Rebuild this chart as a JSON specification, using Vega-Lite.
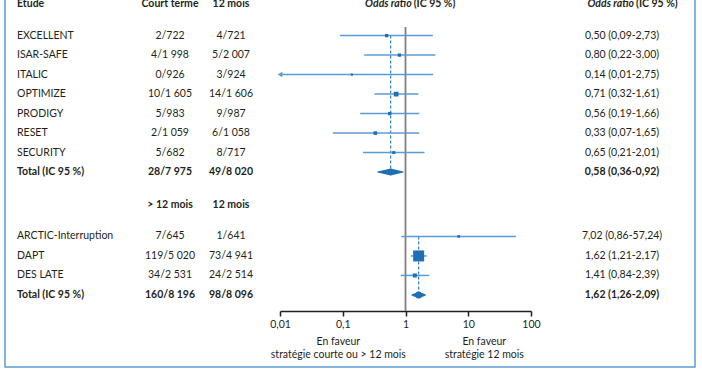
{
  "$schema": "https://vega.github.io/schema/vega-lite/v6.json",
  "width": 690,
  "height": 377,
  "autosize": "none",
  "padding": {"left": 5, "top": -10, "right": 7, "bottom": 3},
  "background": "white",
  "config": {
    "view": {"stroke": "#5b9bd5", "strokeWidth": 1.5},
    "font": "Lato",
    "text": {"font": "Lato", "fontSize": 10.5, "color": "#231f20", "baseline": "middle"}
  },
  "datasets": {
    "etudes": [
      {"groupe": "A", "kind": "entete", "ligne": -0.6, "etude": "Etude", "court": "Court terme", "douze": "12 mois", "titre_or": "Odds ratio", "titre_ic": "(IC 95 %)"},
      {"groupe": "A", "kind": "study", "ligne": 1, "etude": "EXCELLENT", "court": "2/722", "douze": "4/721", "or": 0.50, "lo": 0.09, "hi": 2.73, "poids": 11, "ic": "0,50 (0,09-2,73)"},
      {"groupe": "A", "kind": "study", "ligne": 2, "etude": "ISAR-SAFE", "court": "4/1 998", "douze": "5/2 007", "or": 0.80, "lo": 0.22, "hi": 3.00, "poids": 11, "ic": "0,80 (0,22-3,00)"},
      {"groupe": "A", "kind": "study", "ligne": 3, "etude": "ITALIC", "court": "0/926", "douze": "3/924", "or": 0.14, "lo": 0.01, "hi": 2.75, "poids": 5, "ic": "0,14 (0,01-2,75)"},
      {"groupe": "A", "kind": "study", "ligne": 4, "etude": "OPTIMIZE", "court": "10/1 605", "douze": "14/1 606", "or": 0.71, "lo": 0.32, "hi": 1.61, "poids": 22, "ic": "0,71 (0,32-1,61)"},
      {"groupe": "A", "kind": "study", "ligne": 5, "etude": "PRODIGY", "court": "5/983", "douze": "9/987", "or": 0.56, "lo": 0.19, "hi": 1.66, "poids": 11, "ic": "0,56 (0,19-1,66)"},
      {"groupe": "A", "kind": "study", "ligne": 6, "etude": "RESET", "court": "2/1 059", "douze": "6/1 058", "or": 0.33, "lo": 0.07, "hi": 1.65, "poids": 13, "ic": "0,33 (0,07-1,65)"},
      {"groupe": "A", "kind": "study", "ligne": 7, "etude": "SECURITY", "court": "5/682", "douze": "8/717", "or": 0.65, "lo": 0.21, "hi": 2.01, "poids": 9, "ic": "0,65 (0,21-2,01)"},
      {"groupe": "A", "kind": "total", "ligne": 8, "etude": "Total (IC 95 %)", "court": "28/7 975", "douze": "49/8 020", "or": 0.58, "lo": 0.36, "hi": 0.92, "ic": "0,58 (0,36-0,92)"},
      {"groupe": "B", "kind": "entete", "ligne": 9.7, "etude": "", "court": "> 12 mois", "douze": "12 mois"},
      {"groupe": "B", "kind": "study", "ligne": 11.3, "etude": "ARCTIC-Interruption", "court": "7/645", "douze": "1/641", "or": 7.02, "lo": 0.86, "hi": 57.24, "poids": 7, "ic": "7,02 (0,86-57,24)"},
      {"groupe": "B", "kind": "study", "ligne": 12.3, "etude": "DAPT", "court": "119/5 020", "douze": "73/4 941", "or": 1.62, "lo": 1.21, "hi": 2.17, "poids": 121, "ic": "1,62 (1,21-2,17)"},
      {"groupe": "B", "kind": "study", "ligne": 13.3, "etude": "DES LATE", "court": "34/2 531", "douze": "24/2 514", "or": 1.41, "lo": 0.84, "hi": 2.39, "poids": 16, "ic": "1,41 (0,84-2,39)"},
      {"groupe": "B", "kind": "total", "ligne": 14.3, "etude": "Total (IC 95 %)", "court": "160/8 196", "douze": "98/8 096", "or": 1.62, "lo": 1.26, "hi": 2.09, "ic": "1,62 (1,26-2,09)"}
    ]
  },
  "data": {"name": "etudes"},
  "layer": [
    {
      "layer": [
        {
          "data": {"values": [{"reference": 1}]},
          "mark": {"type": "rule", "color": "#7f7f7f", "strokeWidth": 1.8},
          "encoding": {
            "x": {"field": "reference", "type": "quantitative",
              "scale": {"type": "log", "domain": [0.01, 100], "range": [275, 526], "nice": false},
              "axis": {"values": [0.01, 0.1, 1, 10, 100], "format": "~g", "labelExpr": "replace(datum.label, '.', ',')", "title": null, "offset": -56, "grid": false, "domainColor": "#231f20", "domainWidth": 1.5, "tickColor": "#231f20", "tickWidth": 1.5, "tickSize": 5, "labelFont": "Lato", "labelFontSize": 10.5, "labelColor": "#231f20", "labelPadding": 3, "labelFlush": false, "labelOverlap": false}},
            "y": {"datum": 0.56, "type": "quantitative",
              "scale": {"domain": [-1.3385, 17.995], "reverse": true, "nice": false, "zero": false},
              "axis": null},
            "y2": {"datum": 15.12}
          }
        },
        {
          "transform": [
            {"filter": "datum.kind !== 'entete'"},
            {"joinaggregate": [{"op": "min", "field": "ligne", "as": "debut"}], "groupby": ["groupe"]},
            {"filter": "datum.kind === 'total'"}
          ],
          "mark": {"type": "rule", "color": "#2e7fc1", "strokeWidth": 1.2, "strokeDash": [3, 2]},
          "encoding": {
            "x": {"field": "or", "type": "quantitative"},
            "y": {"field": "debut", "type": "quantitative", "axis": null},
            "y2": {"field": "ligne"}
          }
        },
        {
          "transform": [{"filter": "datum.kind === 'study'"}],
          "mark": {"type": "rule", "color": "#5b9bd5", "strokeWidth": 1.5},
          "encoding": {
            "x": {"field": "lo", "type": "quantitative"},
            "x2": {"field": "hi"},
            "y": {"field": "ligne", "type": "quantitative", "axis": null}
          }
        },
        {
          "transform": [{"filter": "datum.kind === 'study' && datum.lo <= 0.01"}],
          "mark": {"type": "point", "shape": "triangle-left", "filled": true, "size": 30, "color": "#5b9bd5", "opacity": 1, "dx": 3},
          "encoding": {
            "x": {"field": "lo", "type": "quantitative"},
            "y": {"field": "ligne", "type": "quantitative", "axis": null}
          }
        },
        {
          "transform": [{"filter": "datum.kind === 'study'"}],
          "mark": {"type": "square", "color": "#1f6fb4", "opacity": 1},
          "encoding": {
            "x": {"field": "or", "type": "quantitative"},
            "y": {"field": "ligne", "type": "quantitative", "axis": null},
            "size": {"field": "poids", "type": "quantitative", "scale": null, "legend": null}
          }
        },
        {
          "transform": [{"filter": "datum.kind === 'total'"}, {"fold": ["lo", "or", "hi"], "as": ["k", "v"]}],
          "mark": {"type": "trail", "color": "#1f6fb4"},
          "encoding": {
            "x": {"field": "v", "type": "quantitative"},
            "y": {"field": "ligne", "type": "quantitative", "axis": null},
            "detail": {"field": "groupe"},
            "order": {"field": "v", "type": "quantitative"},
            "size": {"condition": {"test": "datum.k === 'or'", "value": 7}, "value": 0}
          }
        },
        {
          "transform": [{"filter": "datum.titre_or"}],
          "mark": {"type": "text", "align": "right", "fontWeight": "bold", "fontStyle": "italic", "dx": -1},
          "encoding": {
            "x": {"datum": 1.3, "type": "quantitative"},
            "y": {"field": "ligne", "type": "quantitative", "axis": null},
            "text": {"field": "titre_or"}
          }
        },
        {
          "transform": [{"filter": "datum.titre_ic"}],
          "mark": {"type": "text", "align": "left", "fontWeight": "bold", "dx": 1},
          "encoding": {
            "x": {"datum": 1.3, "type": "quantitative"},
            "y": {"field": "ligne", "type": "quantitative", "axis": null},
            "text": {"field": "titre_ic"}
          }
        },
        {
          "data": {"values": [{"faveur": "En faveur\nstratégie courte ou > 12 mois", "or": 0.085}, {"faveur": "En faveur\nstratégie  12 mois", "or": 18}]},
          "mark": {"type": "text", "align": "center", "baseline": "alphabetic", "lineBreak": "\n", "lineHeight": 13, "fontWeight": "normal"},
          "encoding": {
            "x": {"field": "or", "type": "quantitative"},
            "y": {"datum": 16.87, "type": "quantitative", "axis": null},
            "text": {"field": "faveur"}
          }
        }
      ]
    },
    {
      "transform": [{"filter": "datum.kind === 'study'"}, {"fold": ["etude"], "as": ["col", "txt"]}],
      "mark": {"type": "text", "align": "left"},
      "encoding": {
        "x": {"field": "col", "type": "nominal", "scale": {"type": "point", "domain": ["etude"], "range": [12, 12], "padding": 0}, "axis": null},
        "y": {"field": "ligne", "type": "quantitative", "axis": null},
        "text": {"field": "txt"}
      }
    },
    {
      "transform": [{"filter": "datum.kind !== 'study'"}, {"fold": ["etude"], "as": ["col", "txt"]}],
      "mark": {"type": "text", "align": "left", "fontWeight": "bold"},
      "encoding": {
        "x": {"field": "col", "type": "nominal", "scale": {"type": "point", "domain": ["etude"], "range": [12, 12], "padding": 0}, "axis": null},
        "y": {"field": "ligne", "type": "quantitative", "axis": null},
        "text": {"field": "txt"}
      }
    },
    {
      "transform": [{"filter": "datum.kind === 'study'"}, {"fold": ["court", "douze"], "as": ["col", "txt"]}],
      "mark": {"type": "text", "align": "center"},
      "encoding": {
        "x": {"field": "col", "type": "nominal", "scale": {"type": "point", "domain": ["court", "douze"], "range": [165, 226], "padding": 0}, "axis": null},
        "y": {"field": "ligne", "type": "quantitative", "axis": null},
        "text": {"field": "txt"}
      }
    },
    {
      "transform": [{"filter": "datum.kind !== 'study'"}, {"fold": ["court", "douze"], "as": ["col", "txt"]}],
      "mark": {"type": "text", "align": "center", "fontWeight": "bold"},
      "encoding": {
        "x": {"field": "col", "type": "nominal", "scale": {"type": "point", "domain": ["court", "douze"], "range": [165, 226], "padding": 0}, "axis": null},
        "y": {"field": "ligne", "type": "quantitative", "axis": null},
        "text": {"field": "txt"}
      }
    },
    {
      "transform": [{"filter": "datum.kind === 'study'"}, {"fold": ["ic"], "as": ["col", "txt"]}],
      "mark": {"type": "text", "align": "center"},
      "encoding": {
        "x": {"field": "col", "type": "nominal", "scale": {"type": "point", "domain": ["ic"], "range": [617, 617], "padding": 0}, "axis": null},
        "y": {"field": "ligne", "type": "quantitative", "axis": null},
        "text": {"field": "txt"}
      }
    },
    {
      "transform": [{"filter": "datum.kind === 'total'"}, {"fold": ["ic"], "as": ["col", "txt"]}],
      "mark": {"type": "text", "align": "center", "fontWeight": "bold"},
      "encoding": {
        "x": {"field": "col", "type": "nominal", "scale": {"type": "point", "domain": ["ic"], "range": [617, 617], "padding": 0}, "axis": null},
        "y": {"field": "ligne", "type": "quantitative", "axis": null},
        "text": {"field": "txt"}
      }
    },
    {
      "transform": [{"filter": "datum.titre_or"}, {"fold": ["titre_or"], "as": ["col", "txt"]}],
      "mark": {"type": "text", "align": "right", "fontWeight": "bold", "fontStyle": "italic", "dx": -1},
      "encoding": {
        "x": {"field": "col", "type": "nominal", "scale": {"type": "point", "domain": ["titre_or"], "range": [630, 630], "padding": 0}, "axis": null},
        "y": {"field": "ligne", "type": "quantitative", "axis": null},
        "text": {"field": "txt"}
      }
    },
    {
      "transform": [{"filter": "datum.titre_ic"}, {"fold": ["titre_ic"], "as": ["col", "txt"]}],
      "mark": {"type": "text", "align": "left", "fontWeight": "bold", "dx": 1},
      "encoding": {
        "x": {"field": "col", "type": "nominal", "scale": {"type": "point", "domain": ["titre_ic"], "range": [630, 630], "padding": 0}, "axis": null},
        "y": {"field": "ligne", "type": "quantitative", "axis": null},
        "text": {"field": "txt"}
      }
    }
  ],
  "resolve": {"scale": {"x": "independent"}}
}
